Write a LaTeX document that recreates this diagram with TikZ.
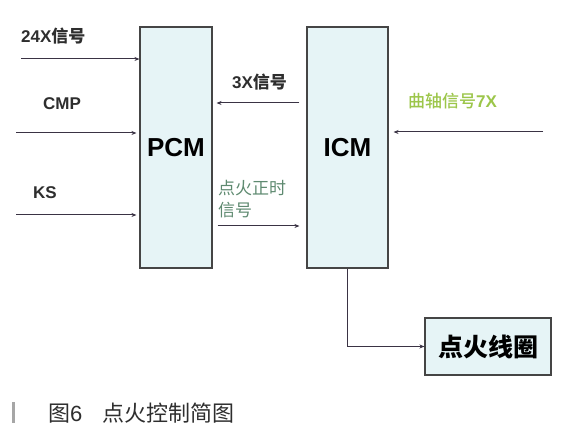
\documentclass[tikz,border=0pt]{standalone}
\usepackage{fontspec}
\setmainfont{Liberation Sans}
\newfontfamily\cjk{Noto Sans CJK SC}
\newfontfamily\cjkmed{Noto Sans CJK SC Medium}
\usetikzlibrary{arrows.meta}
\definecolor{boxfill}{HTML}{E6F4F6}
\definecolor{boxline}{HTML}{454545}
\definecolor{wire}{HTML}{3A3344}
\definecolor{txt}{HTML}{2E2E2E}
\definecolor{tgreen}{HTML}{5E8A70}
\definecolor{lgreen}{HTML}{9CC64A}
\tikzset{
  blk/.style={draw=boxline,fill=boxfill,line width=1.1pt,inner sep=0pt},
  arr/.style={draw=wire,line width=1pt,-{Stealth[length=5pt,width=4pt]}},
  lbl/.style={anchor=west,inner sep=0pt,text=txt,font=\fontsize{17}{20}\selectfont\bfseries},
}
\begin{document}
\begin{tikzpicture}[x=1pt,y=1pt]
\useasboundingbox (0,0) rectangle (565,436);
\fill[white] (0,0) rectangle (565,436);
% blocks
\node[blk,minimum width=72pt,minimum height=241pt] (PCM) at (176,288.5)
  {\fontsize{26}{30}\selectfont\bfseries PCM};
\node[blk,minimum width=81pt,minimum height=241pt] (ICM) at (347.5,288.5)
  {\fontsize{26}{30}\selectfont\bfseries ICM};
\node[blk,minimum width=126pt,minimum height=57pt] (coil) at (488,89.5)
  {\fontsize{25}{30}\selectfont\cjk\bfseries 点火线圈};
% coordinates
\coordinate (s1) at (21,377);
\coordinate (s2) at (16,303);
\coordinate (s3) at (16,221);
\coordinate (y3x) at (0,333);
\coordinate (yig) at (0,210);
\coordinate (s7) at (543,304);
% labels
\node[lbl] (l24) at (21,400) {24X{\cjk 信号}};
\node[lbl] (lcmp) at (43,332) {CMP};
\node[lbl] (lks) at (33,243) {KS};
\node[lbl] (l3x) at (232,354) {3X{\cjk 信号}};
\node[lbl,text=tgreen,font=\fontsize{17}{22}\selectfont\cjk,align=left] (lig) at (218,237) {点火正时\\信号};
\node[lbl,text=lgreen] (l7x) at (408,335) {{\cjkmed\mdseries 曲轴信号}7X};
% connectors
\draw[arr] (s1) -- (PCM.west |- s1);
\draw[arr,shorten >=3pt] (s2) -- (PCM.west |- s2);
\draw[arr,shorten >=3pt] (s3) -- (PCM.west |- s3);
\draw[arr,shorten <=7pt,shorten >=4pt] (ICM.west |- y3x) -- (PCM.east |- y3x);
\draw[arr,shorten <=5pt,shorten >=7pt] (PCM.east |- yig) -- (ICM.west |- yig);
\draw[arr,shorten >=5pt] (s7) -- (ICM.east |- s7);
\draw[arr] (ICM.south) |- (coil.west);
% caption
\node[anchor=west,inner sep=0pt,text=txt,font=\fontsize{22}{26}\selectfont] (cap) at (48,23)
  {{\cjk 图}6\hspace{0.9em}{\cjk 点火控制简图}};
\fill[gray!70] (12,13) rectangle (15,34);
\end{tikzpicture}
\end{document}
